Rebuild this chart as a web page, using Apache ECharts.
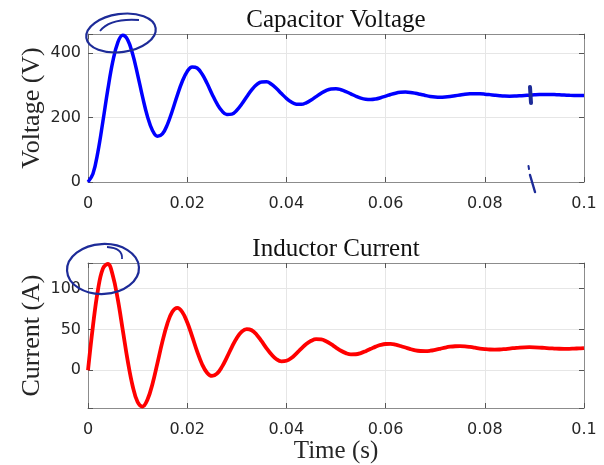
<!DOCTYPE html>
<html><head><meta charset="utf-8">
<script src="https://cdn.jsdelivr.net/npm/echarts@6/dist/echarts.min.js"></script>
<style>html,body{margin:0;padding:0;background:#fff}#c{width:604px;height:465px}</style>
</head><body><div id="c"></div>
<script>
// sampling step of the traces (s)
const DT = 0.001;
// Capacitor voltage (V), one value per ms from 0 to 0.1 s
const voltage = [
  0, 25.5, 93.7, 188.0, 287.9, 374.7, 433.5, 456.0, 441.9, 397.7,
  334.0, 264.4, 202.9, 160.3, 142.0, 149.4, 178.4, 221.4, 269.3, 312.4,
  343.5, 357.8, 354.4, 335.5, 306.8, 273.7, 243.3, 220.9, 209.8, 211.0,
  223.0, 242.5, 265.2, 286.5, 302.6, 311.1, 311.2, 303.7, 290.5, 274.9,
  259.9, 248.4, 242.0, 241.4, 246.2, 254.9, 265.5, 276.0, 284.3, 289.1,
  289.9, 286.9, 281.1, 273.8, 266.5, 260.6, 257.0, 256.2, 258.0, 261.9,
  266.8, 271.9, 276.1, 278.8, 279.6, 278.5, 275.9, 272.5, 269.0, 266.0,
  264.1, 263.4, 264.1, 265.7, 268.0, 270.4, 272.6, 274.0, 274.5, 274.2,
  273.1, 271.6, 269.9, 268.4, 267.3, 266.9, 267.1, 267.8, 268.8, 270.0,
  271.0, 271.8, 272.1, 272.1, 271.6, 270.9, 270.1, 269.4, 268.8, 268.5, 268.6
];
// Inductor current (A), one value per ms from 0 to 0.1 s
const current = [
  0, 54.2, 97.9, 124.2, 129.8, 115.8, 86.8, 49.5, 11.8, -19.1,
  -38.7, -44.2, -35.7, -16.6, 8.8, 35.0, 57.1, 71.4, 76.1, 71.2,
  58.7, 41.4, 23.1, 7.4, -3.0, -6.9, -4.1, 4.2, 15.8, 28.4,
  39.5, 47.2, 50.3, 48.9, 43.5, 35.5, 26.9, 19.2, 13.5, 11.0,
  11.7, 15.1, 20.5, 26.5, 32.0, 36.0, 38.0, 37.7, 35.4, 31.9,
  27.8, 23.9, 21.0, 19.5, 19.6, 21.0, 23.4, 26.2, 28.9, 31.0,
  32.1, 32.2, 31.3, 29.7, 27.8, 25.9, 24.4, 23.6, 23.4, 23.9,
  25.0, 26.3, 27.7, 28.8, 29.4, 29.5, 29.2, 28.5, 27.6, 26.6,
  25.9, 25.4, 25.3, 25.4, 25.9, 26.6, 27.2, 27.8, 28.1, 28.2,
  28.1, 27.8, 27.3, 26.9, 26.6, 26.3, 26.2, 26.2, 26.5, 26.8, 27.1
];
const xTicks = [0, 0.02, 0.04, 0.06, 0.08, 0.1];
const vTicks = [0, 200, 400];
const iTicks = [0, 50, 100];
const titles = ['Capacitor Voltage', 'Inductor Current'];
const yNames = ['Voltage (V)', 'Current (A)'];
const xName = 'Time (s)';

const vPairs = voltage.map((v, i) => [i * DT, v]);
const iPairs = current.map((v, i) => [i * DT, v]);

const AX = '#8c8c8c';
const LBL = '#262626';
const GRIDC = '#e6e6e6';
const SERIF = '"Liberation Serif", "Times New Roman", serif';
const SANS = '"DejaVu Sans", sans-serif';

function fmt(list) {
  return v => list.some(t => Math.abs(t - v) < 1e-9) ? String(+v.toFixed(4)) : '';
}
function xAxis(g, pos) {
  const main = pos === 'bottom';
  return {
    type: 'value', gridIndex: g, position: pos, min: 0, max: 0.1, interval: 0.02,
    axisLine: { show: true, onZero: false, lineStyle: { color: AX, width: 1 } },
    axisTick: { show: true, inside: true, length: 5, lineStyle: { color: '#555' } },
    axisLabel: { show: main, color: LBL, fontFamily: SANS, fontSize: 16, margin: 14, formatter: fmt(xTicks) },
    splitLine: { show: main, lineStyle: { color: GRIDC, width: 1 } },
    name: (main && g === 1) ? xName : '', nameLocation: 'middle', nameGap: 31,
    nameMoveOverlap: false,
    nameTextStyle: { color: LBL, fontFamily: SERIF, fontSize: 25 }
  };
}
function yAxis(g, pos, min, max, ticks, opts) {
  const main = pos === 'left';
  return Object.assign({
    type: 'value', gridIndex: g, position: pos, min: min, max: max,
    axisLine: { show: true, onZero: false, lineStyle: { color: AX, width: 1 } },
    axisTick: { show: true, inside: true, length: 5, lineStyle: { color: '#555' } },
    axisLabel: { show: main, color: LBL, fontFamily: SANS, fontSize: 16, margin: 7, formatter: fmt(ticks) },
    splitLine: { show: main, lineStyle: { color: GRIDC, width: 1 } },
    name: main ? yNames[g] : '', nameLocation: 'middle', nameRotate: 90, nameGap: 43,
    nameMoveOverlap: false,
    nameTextStyle: { color: LBL, fontFamily: SERIF, fontSize: 26 }
  }, opts);
}

const INK = '#1d2b98';
const chart = echarts.init(document.getElementById('c'), null, { renderer: 'canvas' });
chart.setOption({
  animation: false,
  backgroundColor: '#fff',
  title: [
    { text: titles[0], left: 336, top: 8, textAlign: 'center', padding: 0,
      textStyle: { fontFamily: SERIF, fontSize: 25, fontWeight: 'normal', color: '#111' } },
    { text: titles[1], left: 336, top: 237, textAlign: 'center', padding: 0,
      textStyle: { fontFamily: SERIF, fontSize: 25, fontWeight: 'normal', color: '#111' } }
  ],
  grid: [
    { left: 88, top: 34, width: 496, height: 148 },
    { left: 88, top: 263, width: 496, height: 146 }
  ],
  xAxis: [xAxis(0, 'bottom'), xAxis(0, 'top'), xAxis(1, 'bottom'), xAxis(1, 'top')],
  yAxis: [
    yAxis(0, 'left', 0, 460, vTicks, { interval: 200 }),
    yAxis(0, 'right', 0, 460, vTicks, { interval: 200 }),
    yAxis(1, 'left', -46, 131, iTicks, { splitNumber: 4 }),
    yAxis(1, 'right', -46, 131, iTicks, { splitNumber: 4 })
  ],
  series: [
    { type: 'line', xAxisIndex: 0, yAxisIndex: 0, data: vPairs, smooth: 0.4, showSymbol: false,
      lineStyle: { color: '#0000ff', width: 3.5, join: 'round' }, clip: false },
    { type: 'line', xAxisIndex: 2, yAxisIndex: 2, data: iPairs, smooth: 0.4, showSymbol: false,
      lineStyle: { color: '#ff0000', width: 3.8, join: 'round' }, clip: false }
  ],
  graphic: [
    { type: 'ellipse', x: 121, y: 33, rotation: 0.14, shape: { cx: 0, cy: 0, rx: 35, ry: 19 },
      style: { fill: null, stroke: INK, lineWidth: 2.2 }, z: 100 },
    { type: 'bezierCurve', shape: { x1: 100, y1: 31, cpx1: 110, cpy1: 18, x2: 139, y2: 20 },
      style: { fill: null, stroke: INK, lineWidth: 1.8 }, z: 100 },
    { type: 'ellipse', x: 103, y: 269, rotation: 0.05, shape: { cx: 0, cy: 0, rx: 36, ry: 25 },
      style: { fill: null, stroke: INK, lineWidth: 2.2 }, z: 100 },
    { type: 'bezierCurve', shape: { x1: 107, y1: 247, cpx1: 123, cpy1: 248, x2: 122, y2: 259 },
      style: { fill: null, stroke: INK, lineWidth: 1.8 }, z: 100 },
    { type: 'line', shape: { x1: 530, y1: 87, x2: 531, y2: 103 },
      style: { stroke: INK, lineWidth: 4, lineCap: 'round' }, z: 100 },
    { type: 'line', shape: { x1: 528.5, y1: 166, x2: 529, y2: 169 },
      style: { stroke: INK, lineWidth: 2, lineCap: 'round' }, z: 100 },
    { type: 'line', shape: { x1: 530, y1: 175, x2: 535, y2: 192 },
      style: { stroke: INK, lineWidth: 2.4, lineCap: 'round' }, z: 100 }
  ]
});
</script></body></html>
